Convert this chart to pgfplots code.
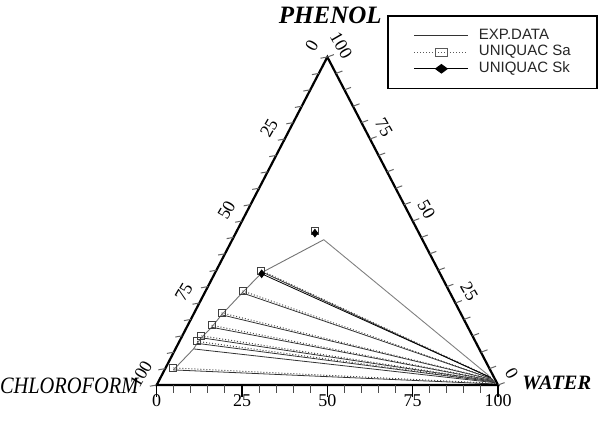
\documentclass[border=0pt]{standalone}
\usepackage{fontspec}
\setmainfont{Liberation Serif}
\newfontfamily\legfont{Liberation Sans}
\usepackage{pgfplots}
\pgfplotsset{compat=1.18}
% one tie line: options, w1 p1, w2 p2 (water %, phenol %)
\newcommand{\tie}[5]{\addplot[#1,forget plot] table[row sep=\\,x expr=\thisrow{w}+0.5*\thisrow{p},y expr=\thisrow{p}]{w p\\#2 #3\\#4 #5\\};}
\begin{document}
\begin{tikzpicture}
\begin{axis}[
  hide axis, scale only axis,
  width=299.5pt, height=212.5pt,
  xmin=-45.91, xmax=129.59, ymin=-12.195, ymax=117.38,
  clip=false,
  legend style={at={(axis cs:129.2,112.7)}, anchor=north east, draw=black, line width=0.7pt,
    font=\legfont\fontsize{7.5}{9}\selectfont, text=black!85,
    inner xsep=11pt, inner ysep=5pt, row sep=-1.5pt,
    nodes={inner sep=1.5pt},
    /tikz/every even column/.append style={column sep=3.5pt}},
  legend cell align=left,
  legend image code/.code={\path (-2pt,0pt) (30.5pt,0pt);\draw[mark repeat=2,mark phase=2,#1] plot coordinates {(0pt,0pt) (13.5pt,0pt) (27pt,0pt)};},
]
\coordinate (C) at (axis cs:0,0);
\coordinate (W) at (axis cs:100,0);
\coordinate (P) at (axis cs:50,100);
\coordinate (bl) at (rel axis cs:0,0);
\coordinate (tr) at (rel axis cs:1,1);

\addlegendimage{black!80, line width=0.4pt}
\addlegendentry{\makebox[46.5pt][l]{EXP.DATA}}
\addlegendimage{black!65, densely dotted, line width=0.5pt, mark=square, mark size=1.9pt, mark options={solid, xscale=1.6, line width=0.4pt}}
\addlegendentry{\makebox[46.5pt][l]{UNIQUAC Sa}}
\addlegendimage{black, line width=0.55pt, mark=diamond*, mark size=2.1pt, mark options={xscale=1.8}}
\addlegendentry{\makebox[46.5pt][l]{UNIQUAC Sk}}

% experimental binodal (organic branch)
\addplot[black!55, line width=0.45pt, forget plot] table[x expr=\thisrow{w}+0.5*\thisrow{p}, y expr=\thisrow{p}] {
w p
26.8 44.3
13.8 34.4
11.0 28.1
8.3 21.4
7.3 17.6
5.9 14.4
5.5 12.7
5.3 11.0
2.6 4.6
};
% experimental tie lines
\tie{black!50, line width=0.45pt}{26.8}{44.3}{96.0}{2.8}
\tie{black!80, line width=0.4pt}{13.8}{34.4}{96.8}{2.2}
\tie{black!80, line width=0.4pt}{11.0}{28.1}{97.3}{1.9}
\tie{black!80, line width=0.4pt}{8.3}{21.4}{97.8}{1.6}
\tie{black!80, line width=0.4pt}{7.3}{17.6}{98.1}{1.3}
\tie{black!80, line width=0.4pt}{5.9}{14.4}{98.4}{1.1}
\tie{black!80, line width=0.4pt}{5.5}{12.7}{98.6}{0.9}
\tie{black!80, line width=0.4pt}{5.3}{11.0}{98.8}{0.7}
\tie{black!80, line width=0.4pt}{2.6}{4.6}{99.3}{0.3}
% UNIQUAC Sa tie lines
\tie{black!70, densely dotted, line width=0.5pt}{13.2}{34.9}{96.6}{2.4}
\tie{black!70, densely dotted, line width=0.5pt}{10.8}{28.7}{97.1}{2.0}
\tie{black!70, densely dotted, line width=0.5pt}{8.0}{22.0}{97.6}{1.7}
\tie{black!70, densely dotted, line width=0.5pt}{7.0}{18.2}{98.0}{1.4}
\tie{black!70, densely dotted, line width=0.5pt}{5.6}{15.0}{98.3}{1.2}
\tie{black!70, densely dotted, line width=0.5pt}{5.2}{13.3}{98.5}{1.0}
\tie{black!70, densely dotted, line width=0.5pt}{2.3}{5.2}{99.1}{0.5}
% UNIQUAC Sk tie line
\tie{black, line width=0.4pt}{13.8}{33.9}{96.7}{2.3}
% UNIQUAC Sa points
\addplot[only marks, mark=square, mark size=1.75pt, mark options={black!75, fill=white, line width=0.5pt}, forget plot]
  table[x expr=\thisrow{w}+0.5*\thisrow{p}, y expr=\thisrow{p}] {
w p
22.7 47.1
13.2 34.9
10.8 28.7
8.0 22.0
7.0 18.2
5.6 15.0
5.2 13.3
2.3 5.2
};
% UNIQUAC Sk points
\addplot[only marks, mark=diamond*, mark size=1.9pt, mark options={black}, forget plot]
  table[x expr=\thisrow{w}+0.5*\thisrow{p}, y expr=\thisrow{p}] {
w p
23.2 46.3
13.8 33.9
};
\end{axis}
% triangle frame
\draw[line width=1.1pt, line join=miter] (C) -- (W) -- (P) -- cycle;
% ticks
\foreach \v in {0,5,...,100} {
  \draw[line width=0.5pt, black!70] (barycentric cs:C={1-\v/100},W={\v/100}) -- ++(0,-4pt);
  \draw[line width=0.5pt, black!60] (barycentric cs:C={\v/100},P={1-\v/100}) -- ++(190:3.5pt);
  \draw[line width=0.5pt, black!60] (barycentric cs:P={\v/100},W={1-\v/100}) -- ++(20:3.5pt);
}
\foreach \v in {0,25,50,75,100} {
  \draw[line width=0.6pt] (barycentric cs:C={1-\v/100},W={\v/100}) -- ++(0,-6pt);
  \node[anchor=north, inner sep=0pt, font=\fontsize{9}{10}\selectfont] at ([yshift=-4.5pt]barycentric cs:C={1-\v/100},W={\v/100}) {\v};
  \node[rotate=60, inner sep=0pt, font=\fontsize{9}{10}\selectfont] at ([shift={(145:9.5pt)}]barycentric cs:C={\v/100},P={1-\v/100}) {\v};
  \node[rotate=-60, inner sep=0pt, font=\fontsize{9}{10}\selectfont] at ([shift={(40:9pt)}]barycentric cs:P={\v/100},W={1-\v/100}) {\v};
}
% component names
\node[font=\bfseries\itshape\fontsize{12.5}{14}\selectfont] at ([xshift=1.5pt,yshift=21pt]P) {PHENOL};
\node[anchor=east, inner sep=0pt, font=\itshape\fontsize{10.2}{12}\selectfont] at ([xshift=-9pt,yshift=-0.5pt]C) {\scalebox{1}[1.15]{CHLOROFORM}};
\node[anchor=west, inner sep=0pt, font=\bfseries\itshape\fontsize{10.2}{12}\selectfont] at ([xshift=12pt,yshift=1pt]W) {WATER};
\pgfresetboundingbox
\useasboundingbox (bl) rectangle (tr);
\end{tikzpicture}
\end{document}
